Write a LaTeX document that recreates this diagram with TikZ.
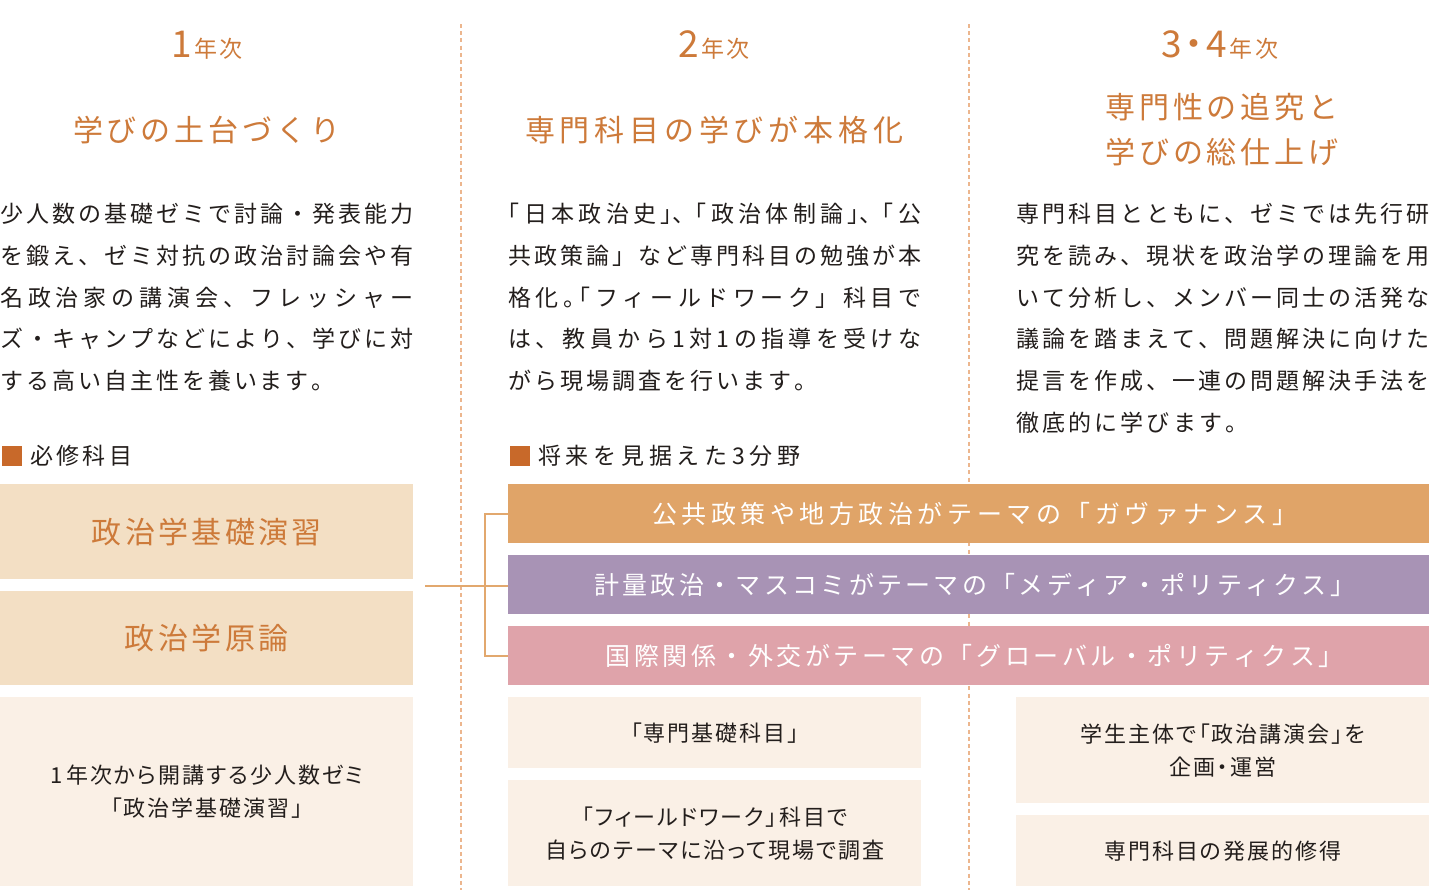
\documentclass[tikz,border=0pt]{standalone}
\usepackage{fontspec}
\setmainfont{Noto Sans CJK JP}

\definecolor{accent}{RGB}{205,122,58}
\definecolor{ink}{RGB}{35,30,28}
\definecolor{sepline}{RGB}{236,182,142}
\definecolor{corefill}{RGB}{243,223,196}
\definecolor{notefill}{RGB}{250,240,230}
\definecolor{govfill}{RGB}{224,164,104}
\definecolor{medfill}{RGB}{168,147,181}
\definecolor{globfill}{RGB}{223,163,170}
\definecolor{marker}{RGB}{200,105,42}
\definecolor{linkcol}{RGB}{226,168,110}

\newcommand\jstrut{\rule[-0.12em]{0pt}{1em}}
\newcommand\yearnum{\fontsize{27.75pt}{30pt}\selectfont}
\newcommand\spreadtext[2]{\makebox[#1][s]{\jstrut\spreadchars#2\relax}}
\def\spreadchars#1#2{{#1}\ifx\relax#2\expandafter\spreadstop\else\hfil\expandafter\spreadchars\fi{#2}}
\def\spreadstop#1{}

\begin{document}
\begin{tikzpicture}[x=0.75pt,y=-0.75pt,
  year/.style={text=accent, inner sep=0, font=\fontsize{17.25pt}{20pt}\selectfont},
  title/.style={text=accent, inner sep=0, align=center, font=\fontsize{22.5pt}{33.75pt}\selectfont},
  body/.style={anchor=north west, inner sep=0, align=left, text=ink, font=\fontsize{17.25pt}{31.35pt}\selectfont},
  tag/.style={anchor=west, inner sep=0, text=ink, font=\fontsize{17.25pt}{20pt}\selectfont},
  corebox/.style={anchor=north west, inner sep=0, minimum width=309.75pt, fill=corefill, text=accent, font=\fontsize{22.5pt}{26pt}\selectfont},
  notebox/.style={anchor=north west, inner sep=0, minimum width=309.75pt, fill=notefill, text=ink, align=center, font=\fontsize{16.5pt}{24.75pt}\selectfont\addfontfeature{RawFeature=+palt,LetterSpace=9}},
  bar/.style={anchor=north west, inner sep=0, minimum width=690.75pt, minimum height=44.25pt, text=white, font=\fontsize{18.75pt}{20pt}\selectfont},
  sep/.style={sepline, line width=1.1pt, dash pattern=on 3pt off 2.4pt},
  link/.style={linkcol, line width=1.6pt}]

\path[use as bounding box, fill=white] (0,0) rectangle (1429,890);

% column rules
\draw[sep] (461,24) -- (461,890);
\draw[sep] (969,24) -- (969,890);

% headings
\node[year, anchor=base] (yrA) at (207,57.5) {{\yearnum 1}\hspace{2pt}年\hspace{2pt}次};
\node[year, anchor=base] (yrB) at (714,57.5) {{\yearnum 2}\hspace{2pt}年\hspace{2pt}次};
\node[year, anchor=base] (yrC) at (1220,57.5) {{\yearnum 3\makebox[18pt]{・}4}\hspace{2pt}年\hspace{2pt}次};

\node[title] (aimA) at (207,130) {\spreadtext{201pt}{学びの土台づくり}};
\node[title] (aimB) at (714,130) {\spreadtext{283.5pt}{専門科目の学びが本格化}};
\node[title] (aimC) at (1222,129.5) {\spreadtext{175pt}{専門性の追究と}\\\spreadtext{175pt}{学びの総仕上げ}};

% texts
\node[body] (introA) at (0,202) {%
  \spreadtext{309.75pt}{少人数の基礎ゼミで討論・発表能力}\\
  \spreadtext{309.75pt}{を鍛え、ゼミ対抗の政治討論会や有}\\
  \spreadtext{309.75pt}{名政治家の講演会、フレッシャー}\\
  \spreadtext{309.75pt}{ズ・キャンプなどにより、学びに対}\\
  \spreadtext{251pt}{する高い自主性を養います。}};
\node[body] (introB) at (508,202) {%
  \spreadtext{309.75pt}{{\kern-.5em「}日本政治史{」\kern-.5em、\kern-.5em「}政治体制論{」\kern-.5em、\kern-.5em「}公}\\
  \spreadtext{309.75pt}{共政策論」など専門科目の勉強が本}\\
  \spreadtext{309.75pt}{格化{。\kern-.8em「}フィールドワーク」科目で}\\
  \spreadtext{309.75pt}{は、教員から1対1の指導を受けな}\\
  \spreadtext{232pt}{がら現場調査を行います。}};
\node[body] (introC) at (1016,202) {%
  \spreadtext{309.75pt}{専門科目とともに、ゼミでは先行研}\\
  \spreadtext{309.75pt}{究を読み、現状を政治学の理論を用}\\
  \spreadtext{309.75pt}{いて分析し、メンバー同士の活発な}\\
  \spreadtext{309.75pt}{議論を踏まえて、問題解決に向けた}\\
  \spreadtext{309.75pt}{提言を作成、一連の問題解決手法を}\\
  \spreadtext{174pt}{徹底的に学びます。}};

\fill[marker] (2,446) rectangle (22,466);
\node[tag] (reqtag) at (30,456) {\spreadtext{76.5pt}{必修科目}};
\fill[marker] (510,446) rectangle (530,466);
\node[tag] (fieldtag) at (538,456) {\spreadtext{196.5pt}{将来を見据えた3分野}};

% boxes
\node[corebox, minimum height=71.25pt] (seminar) at (0,484) {\spreadtext{172.5pt}{政治学基礎演習}};
\node[corebox, minimum height=70.5pt] (theory) at (0,591) {\spreadtext{123pt}{政治学原論}};
\node[notebox, minimum height=141.75pt] (firstsem) at (0,697) {1\hspace{3pt}年次から開講する少人数ゼミ\\「政治学基礎演習」};

\node[bar, fill=govfill] (gov) at (508,484) {\spreadtext{483.75pt}{公共政策や地方政治がテーマの「ガヴァナンス」}\kern-9pt};
\node[bar, fill=medfill] (media) at (508,555) {\spreadtext{570.75pt}{計量政治・マスコミがテーマの「メディア・ポリティクス」}\kern-9pt};
\node[bar, fill=globfill] (glob) at (508,626) {\spreadtext{553.5pt}{国際関係・外交がテーマの「グローバル・ポリティクス」}\kern-9pt};

\node[notebox, minimum height=53.25pt] (basics) at (508,697) {「専門基礎科目」};
\node[notebox, minimum height=79.5pt] (fieldwork) at (508,780) {「フィールドワーク」科目で\\自らのテーマに沿って現場で調査};
\node[notebox, minimum height=79.5pt] (lecture) at (1016,697) {学生主体で「政治講演会」を\\企画・運営};
\node[notebox, minimum height=53.25pt] (advanced) at (1016,815) {専門科目の発展的修得};

% links
\coordinate (hub) at (425,586);
\coordinate (fork) at (485,586);
\draw[link] (hub) -- (hub -| media.west);
\draw[link] (gov.west) -| (fork) |- (glob.west);

\end{tikzpicture}
\end{document}
